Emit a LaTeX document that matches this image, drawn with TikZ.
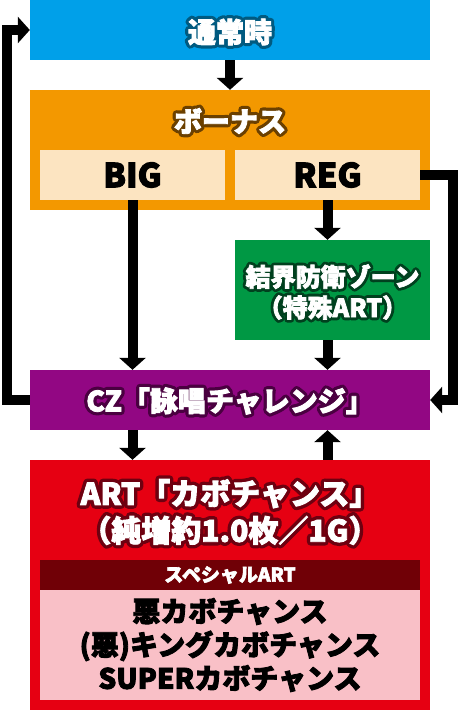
\documentclass[tikz,border=0pt]{standalone}
\usepackage{fontspec}
\setmainfont{Noto Sans CJK JP Black}[FakeBold=3]
\newfontfamily\facehalo{Noto Sans CJK JP Black}[FakeBold=26]
\usepackage{xcolor}
\usepackage{tikz}
\usetikzlibrary{arrows.meta,positioning}
\definecolor{normalblue}{HTML}{00A0E9}
\definecolor{normaledge}{HTML}{005A80}
\definecolor{bonusorange}{HTML}{F39800}
\definecolor{bonusedge}{HTML}{6B4000}
\definecolor{bonuslight}{HTML}{FCE4C1}
\definecolor{zonegreen}{HTML}{009844}
\definecolor{zoneedge}{HTML}{00401E}
\definecolor{czpurple}{HTML}{920783}
\definecolor{czedge}{HTML}{4A0040}
\definecolor{artred}{HTML}{E60012}
\definecolor{artedge}{HTML}{6E0010}
\definecolor{spdark}{HTML}{700006}
\definecolor{sppink}{HTML}{F9C0C7}
\newcommand\sz[2]{\fontsize{#1}{#2}\selectfont}
% white title on a dark halo of the same text
\newcommand\labelpair[5]{%
  \node[halo=#3,font={\facehalo\sz{#4}{#4}\baselineskip=1.23\baselineskip}] (#1halo) at #2
    {\special{pdf:code 1 j 1 J}#5};
  \node[title,font={\sz{#4}{#4}\baselineskip=1.23\baselineskip}] (#1) at #2 {#5};}

\begin{document}
\begin{tikzpicture}[x=1pt,y=-1pt,
  every node/.style={inner sep=0pt},
  box/.style={rectangle,draw=none,minimum width=400pt},
  subbox/.style={rectangle,draw=none,minimum width=185pt,minimum height=50pt,
    fill=bonuslight,font=\sz{33}{36}},
  title/.style={text=white,align=center},
  halo/.style={text=#1,align=center},
  flow/.style={line width=10pt,-{Triangle[width=26pt,length=12pt]}}]
  \useasboundingbox (0,0) rectangle (460,710);
  \node[box,minimum height=60pt,fill=normalblue] (normal) at (230,30) {};
  \labelpair{normaltitle}{(230,32)}{normaledge}{28}{通常時}
  \node[box,minimum height=120pt,fill=bonusorange] (bonus) at (230,150) {};
  \labelpair{bonustitle}{(230,121)}{bonusedge}{28}{ボーナス}
  \node[subbox] (big) at (132.5,175) {BIG};
  \node[subbox] (reg) at (327.5,175) {REG};
  \node[rectangle,minimum width=195pt,minimum height=100pt,fill=zonegreen] (zone) at (332.5,290) {};
  \labelpair{zonetitle}{(332.5,292)}{zoneedge}{25}{結界防衛ゾーン\\（特殊ART）}
  \node[box,minimum height=60pt,fill=czpurple] (cz) at (230,400) {};
  \labelpair{cztitle}{(230,401)}{czedge}{28}{CZ「詠唱チャレンジ」}
  \node[box,minimum height=250pt,fill=artred] (art) at (230,585) {};
  \labelpair{arttitle}{(230,512)}{artedge}{30}{ART「カボチャンス」\\（純増約1.0枚／1G）}
  \node[rectangle,minimum width=380pt,minimum height=30pt,fill=spdark,text=white,
    font=\sz{19}{22}] (spbar) at (230,575) {スペシャルART};
  \node[rectangle,minimum width=380pt,minimum height=110pt,fill=sppink,align=center,
    font=\sz{28}{33.5}] (splist) at (230,645)
    {悪カボチャンス\\(悪)キングカボチャンス\\SUPERカボチャンス};
  \coordinate (leftturn) at (7,30);
  \coordinate (rightturn) at (453,400);
  \draw[flow] (normal) -- (bonus);
  \draw[flow] (big) -- (cz.north -| big);
  \draw[flow] (reg) -- (zone.north -| reg);
  \draw[flow] (zone.south -| reg) -- (cz.north -| reg);
  \draw[flow] (cz.south -| big) -- (art.north -| big);
  \draw[flow] (art.north -| reg) -- (cz.south -| reg);
  \draw[flow] (reg.east) -| (rightturn) -- (cz.east);
  \draw[flow] (cz.west) -| (leftturn) -- (normal.west);
\end{tikzpicture}
\end{document}
